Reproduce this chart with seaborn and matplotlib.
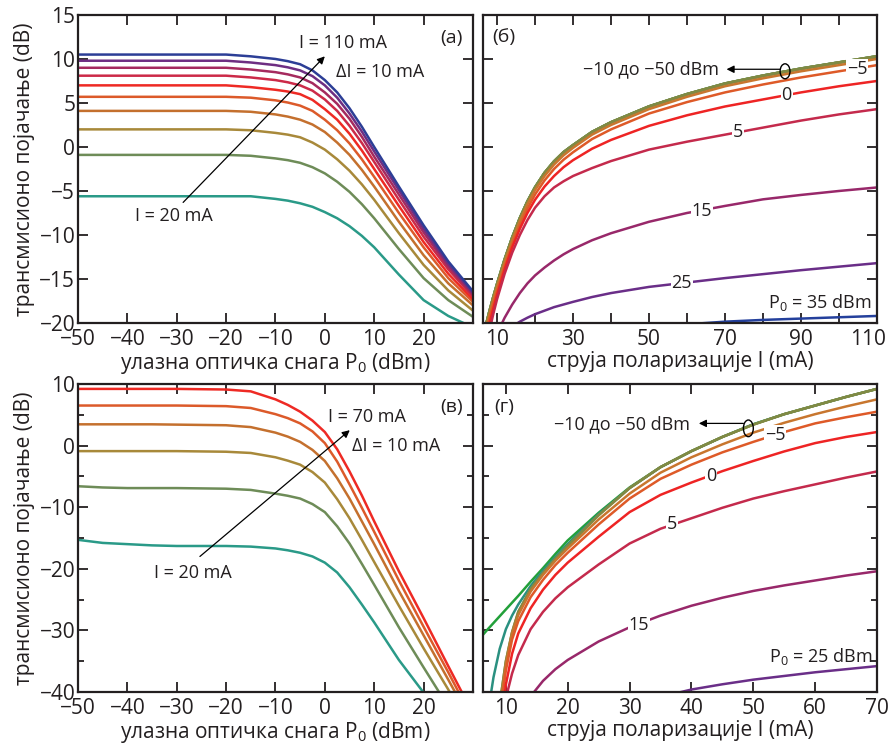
import matplotlib
matplotlib.use("Agg")
import matplotlib.pyplot as plt
from matplotlib.patches import Ellipse
from matplotlib.transforms import ScaledTranslation
import seaborn as sns

# ---- panel (а): gain vs input power, bias current 20..110 mA ----
P_A = [-50, -30, -20, -15, -10, -7.5, -5, -2.5, 0, 2.5, 5, 7.5, 10, 15, 20, 25, 30]
A_I110 = [10.5, 10.5, 10.5, 10.3, 10.0, 9.75, 9.4, 8.7, 7.6, 6.2, 4.4, 2.3, 0.0, -4.5, -8.9, -13.0, -16.4]
A_I100 = [9.8, 9.8, 9.8, 9.6, 9.3, 9.05, 8.7, 8.05, 7.0, 5.6, 3.8, 1.75, -0.5, -4.9, -9.3, -13.3, -16.6]
A_I90 = [9.0, 9.0, 9.0, 8.8, 8.5, 8.25, 7.9, 7.25, 6.2, 4.9, 3.2, 1.15, -1.1, -5.4, -9.7, -13.6, -16.8]
A_I80 = [8.1, 8.1, 8.1, 7.9, 7.6, 7.35, 7.0, 6.4, 5.4, 4.1, 2.4, 0.45, -1.7, -6.0, -10.2, -13.9, -17.0]
A_I70 = [7.0, 7.0, 7.0, 6.8, 6.5, 6.3, 6.0, 5.35, 4.3, 3.1, 1.5, -0.4, -2.5, -6.7, -10.8, -14.4, -17.3]
A_I60 = [5.7, 5.7, 5.7, 5.6, 5.3, 5.05, 4.7, 4.1, 3.1, 1.9, 0.4, -1.4, -3.4, -7.5, -11.4, -14.9, -17.6]
A_I50 = [4.1, 4.1, 4.1, 4.0, 3.7, 3.45, 3.1, 2.55, 1.7, 0.5, -0.9, -2.6, -4.5, -8.5, -12.3, -15.5, -18.0]
A_I40 = [2.0, 2.0, 2.0, 1.9, 1.6, 1.4, 1.1, 0.5, -0.3, -1.4, -2.7, -4.25, -6.0, -9.8, -13.4, -16.3, -18.6]
A_I30 = [-0.9, -0.9, -0.9, -1.0, -1.3, -1.5, -1.8, -2.3, -3.0, -3.95, -5.1, -6.5, -8.1, -11.6, -14.9, -17.4, -19.3]
A_I20 = [-5.6, -5.6, -5.6, -5.6, -5.9, -6.1, -6.4, -6.8, -7.4, -8.1, -9.0, -10.1, -11.4, -14.5, -17.4, -19.2, -20.5]

# ---- panel (б): gain vs bias current, input power -50..35 dBm ----
I_B = [7, 8, 9, 10, 12, 14, 16, 18, 20, 22.5, 25, 27.5, 30, 35, 40, 50, 60, 70, 80, 90, 100, 110]
B_BAND = [-20.4, -18.7, -17.1, -15.6, -12.8, -10.3, -8.1, -6.2, -4.6, -2.95, -1.65, -0.6, 0.2, 1.7, 2.8, 4.6, 6.0, 7.2, 8.1, 8.9, 9.6, 10.3]
B_M10 = [-20.7, -19.0, -17.4, -15.9, -13.1, -10.6, -8.4, -6.5, -4.9, -3.3, -2.0, -0.95, -0.1, 1.4, 2.5, 4.3, 5.7, 6.9, 7.8, 8.6, 9.3, 10.0]
B_M5 = [-21.2, -19.5, -17.9, -16.4, -13.6, -11.1, -8.9, -7.0, -5.4, -3.8, -2.5, -1.45, -0.6, 0.9, 2.0, 3.8, 5.1, 6.2, 7.1, 7.9, 8.6, 9.3]
B_P0 = [-22.0, -20.1, -18.4, -16.8, -13.9, -11.4, -9.3, -7.5, -6.0, -4.5, -3.3, -2.3, -1.5, -0.2, 0.8, 2.4, 3.6, 4.6, 5.4, 6.2, 6.9, 7.5]
B_P5 = [-23.0, -20.9, -19.0, -17.3, -14.4, -12.0, -10.0, -8.3, -6.9, -5.6, -4.6, -3.9, -3.3, -2.4, -1.6, -0.3, 0.6, 1.4, 2.2, 3.0, 3.7, 4.3]
B_P15 = [-25.0, -23.5, -22.3, -21.2, -19.4, -17.9, -16.6, -15.5, -14.6, -13.7, -12.9, -12.2, -11.6, -10.6, -9.8, -8.5, -7.5, -6.7, -5.95, -5.45, -5.0, -4.6]
B_P25 = [-23.8, -23.1, -22.5, -22.0, -21.1, -20.4, -19.85, -19.4, -19.0, -18.6, -18.2, -17.9, -17.6, -17.05, -16.6, -15.9, -15.4, -14.9, -14.45, -14.0, -13.6, -13.2]
I_B35 = [60, 70, 80, 90, 100, 110]
B_P35 = [-20.15, -19.85, -19.65, -19.5, -19.35, -19.2]

# ---- panel (в): gain vs input power, bias current 20..70 mA ----
P_C = [-50, -45, -40, -35, -30, -20, -15, -10, -7.5, -5, -2.5, 0, 2.5, 5, 7.5, 10, 15, 20, 25, 30]
C_I70 = [9.2, 9.2, 9.2, 9.2, 9.2, 9.1, 8.8, 7.5, 6.6, 5.5, 4.05, 2.2, -0.6, -4.2, -8.1, -12.3, -20.4, -28.0, -35.8, -43.5]
C_I60 = [6.5, 6.5, 6.5, 6.5, 6.5, 6.4, 6.1, 5.1, 4.45, 3.6, 2.3, 0.4, -2.6, -6.3, -10.1, -14.0, -21.9, -29.4, -36.8, -44.5]
C_I50 = [3.45, 3.45, 3.45, 3.45, 3.4, 3.3, 3.0, 2.1, 1.45, 0.6, -0.7, -2.5, -5.3, -8.6, -12.3, -16.0, -23.6, -30.8, -38.0, -45.3]
C_I40 = [-0.9, -0.9, -0.9, -0.9, -0.9, -1.0, -1.2, -1.9, -2.45, -3.1, -4.3, -6.0, -8.7, -11.8, -15.3, -18.9, -26.0, -32.9, -39.6, -46.5]
C_I30 = [-6.6, -6.8, -6.9, -6.9, -6.9, -7.0, -7.2, -7.8, -8.15, -8.6, -9.5, -10.8, -13.1, -15.9, -19.2, -22.6, -29.5, -36.0, -42.4, -49.0]
C_I20 = [-15.3, -15.8, -16.0, -16.2, -16.3, -16.3, -16.4, -16.7, -17.0, -17.4, -18.0, -19.0, -20.6, -23.0, -25.8, -28.7, -34.8, -40.1, -45.8, -51.5]

# ---- panel (г): gain vs bias current, input power -50..25 dBm ----
I_D = [6.3, 7, 8, 9, 10, 11, 12, 14, 16, 18, 20, 25, 30, 35, 40, 45, 50, 55, 60, 65, 70]
D_M50 = [-30.7, -29.9, -28.8, -27.7, -26.6, -25.5, -24.4, -22.1, -19.9, -17.6, -15.4, -10.9, -6.8, -3.5, -0.9, 1.4, 3.45, 5.1, 6.5, 7.9, 9.2]
D_M40 = [-52.0, -44.0, -37.6, -33.0, -29.8, -27.6, -25.8, -22.8, -20.3, -18.1, -16.0, -11.1, -6.9, -3.5, -0.9, 1.4, 3.45, 5.1, 6.5, 7.9, 9.2]
D_BAND = [-70.0, -62.0, -52.0, -42.0, -35.0, -30.3, -27.0, -23.3, -20.7, -18.4, -16.3, -11.3, -6.9, -3.5, -0.9, 1.4, 3.4, 5.1, 6.5, 7.9, 9.2]
D_M10 = [-75.0, -66.0, -55.0, -43.0, -35.5, -30.5, -27.5, -23.7, -21.0, -18.7, -16.7, -12.0, -7.8, -4.4, -1.9, 0.2, 2.1, 3.7, 5.1, 6.35, 7.5]
D_M5 = [-76.0, -67.0, -56.0, -44.0, -36.5, -31.5, -28.5, -24.6, -21.8, -19.4, -17.4, -12.8, -8.6, -5.4, -3.1, -1.1, 0.6, 2.2, 3.6, 4.6, 5.5]
D_P0 = [-80.0, -70.0, -59.0, -47.0, -38.8, -33.8, -30.5, -26.4, -23.4, -21.0, -19.0, -14.8, -10.8, -8.0, -6.0, -4.15, -2.5, -0.95, 0.4, 1.4, 2.2]
D_P5 = [-85.0, -75.0, -63.0, -52.0, -41.0, -37.0, -34.0, -29.8, -27.0, -24.8, -23.0, -19.3, -15.9, -13.5, -11.8, -10.1, -8.6, -7.4, -6.3, -5.2, -4.2]
D_P15 = [-90.0, -80.0, -70.0, -62.0, -55.0, -49.0, -45.0, -40.7, -38.2, -36.3, -34.8, -31.8, -29.5, -27.6, -26.0, -24.7, -23.6, -22.7, -21.9, -21.1, -20.4]
I_D25 = [30, 35, 40, 45, 50, 55, 60, 65, 70]
D_P25 = [-42.4, -40.8, -39.6, -38.75, -38.0, -37.4, -36.8, -36.3, -35.8]

# colours by current (mA) and by input power (dBm)
I_COL = {20: "#2a9a88", 30: "#6e8c58", 40: "#a8893a", 50: "#c4702e", 60: "#dc5a2a",
         70: "#ee2a24", 80: "#cc2a48", 90: "#a52a5e", 100: "#6e2e82", 110: "#2c3e96"}
P_COL = {-50: "#22a03a", -40: "#2a9080", -30: "#7f8a44", -20: "#a8863a", -10: "#c8762e",
         -5: "#de5a28", 0: "#ee2424", 5: "#c42a4c", 15: "#98286a", 25: "#6a2e88", 35: "#24409c"}

sns.set_theme(style="ticks")
plt.rcParams['font.family'] = ['Open Sans', 'DejaVu Sans']
plt.rcParams['mathtext.fontset'] = 'custom'
plt.rcParams['mathtext.rm'] = 'Open Sans'
plt.rcParams['axes.unicode_minus'] = True

INK = "#231f20"
LW = 1.8

fig = plt.figure(figsize=(8.89, 7.52), dpi=100)
ax_a = fig.add_axes([0.0877, 0.5705, 0.4443, 0.4096])
ax_b = fig.add_axes([0.5433, 0.5705, 0.4432, 0.4096])
ax_c = fig.add_axes([0.0877, 0.0798, 0.4443, 0.4096])
ax_d = fig.add_axes([0.5433, 0.0798, 0.4432, 0.4096])


def curve(ax, x, y, color, lw=LW):
    sns.lineplot(x=x, y=y, color=color, linewidth=lw, ax=ax, legend=False)


def minus(vals):
    return [str(v).replace('-', '\u2212') for v in vals]


def style(ax, xlim, ylim, xticks, xlabels, yticks, ylabels, yminor=None):
    ax.set_xlim(*xlim)
    ax.set_ylim(*ylim)
    ax.set_xticks(xticks)
    ax.set_xticklabels(xlabels)
    ax.set_yticks(yticks)
    ax.set_yticklabels(ylabels)
    if yminor is not None:
        ax.set_yticks(yminor, minor=True)
    ax.tick_params(which='major', direction='in', top=True, right=True, length=7.2, width=1.3,
                   colors=INK, labelsize=15, pad=4)
    ax.tick_params(axis='y', which='major', pad=2)
    ax.tick_params(which='minor', direction='in', left=True, right=True, length=4.3, width=1.3, colors=INK)
    for s in ax.spines.values():
        s.set_linewidth(1.6)
        s.set_color(INK)
    ax.set_facecolor("white")


def lab(ax, x, y, s, size=13, bg=True):
    kw = dict(ha='center', va='center', fontsize=size, color=INK, zorder=5)
    if bg:
        kw['bbox'] = dict(facecolor='white', edgecolor='none', pad=0.6)
    ax.text(x, y, s, **kw)


def arrow(ax, tip, tail):
    ax.annotate("", xy=tip, xytext=tail,
                arrowprops=dict(arrowstyle='-|>', color='black', lw=0.9, mutation_scale=11,
                                shrinkA=0, shrinkB=0), zorder=6)


# (а)
for cur, g in [(20, A_I20), (30, A_I30), (40, A_I40), (50, A_I50), (60, A_I60),
               (70, A_I70), (80, A_I80), (90, A_I90), (100, A_I100), (110, A_I110)]:
    curve(ax_a, P_A, g, I_COL[cur])
style(ax_a, (-50, 30), (-20, 15), range(-50, 21, 10), minus(range(-50, 21, 10)),
      range(-20, 16, 5), minus(range(-20, 16, 5)))
lab(ax_a, 3.7, 11.8, "I = 110 mA", bg=False)
lab(ax_a, 11.1, 8.56, "\u0394I = 10 mA", bg=False)
lab(ax_a, -30.5, -7.9, "I = 20 mA", bg=False)
arrow(ax_a, (0, 10.3), (-28.7, -6.3))
lab(ax_a, 25.6, 12.35, "(а)", size=14, bg=False)
ax_a.set_xlabel(r"улазна оптичка снага P$_0$ (dBm)", fontsize=15, color=INK, labelpad=1)

# (б)
for p in (-50, -40, -20, -30):
    curve(ax_b, I_B, B_BAND, P_COL[p], lw=2.0)
for p, g in [(-10, B_M10), (-5, B_M5), (0, B_P0), (5, B_P5), (15, B_P15), (25, B_P25)]:
    curve(ax_b, I_B, g, P_COL[p])
curve(ax_b, I_B35, B_P35, P_COL[35])
style(ax_b, (6.3, 110), (-20, 15), range(10, 111, 10), [str(v) if v % 20 == 10 else "" for v in range(10, 111, 10)],
      range(-20, 16, 5), [])
last = ax_b.get_xticklabels()[-1]
last.set_transform(last.get_transform() + ScaledTranslation(-9 / 100, 0, fig.dpi_scale_trans))
lab(ax_b, 11.7, 12.5, "(б)", size=14, bg=False)
lab(ax_b, 50.5, 8.8, "\u221210 до \u221250 dBm", bg=False)
arrow(ax_b, (70.4, 8.83), (84.5, 8.83))
ax_b.add_patch(Ellipse((85.8, 8.6), 2.6, 1.7, fill=False, edgecolor='black', lw=1.0, zorder=6))
lab(ax_b, 104.7, 8.9, "\u22125")
lab(ax_b, 86.2, 5.85, "0")
lab(ax_b, 73.5, 1.7, "5")
lab(ax_b, 63.9, -7.3, "15")
lab(ax_b, 58.6, -15.5, "25")
ax_b.text(108.5, -17.7, r"P$_0$ = 35 dBm", ha='right', va='center', fontsize=13, color=INK)
ax_b.set_xlabel("струја поларизације I (mA)", fontsize=15, color=INK, labelpad=1)

# (в)
for cur, g in [(20, C_I20), (30, C_I30), (40, C_I40), (50, C_I50), (60, C_I60), (70, C_I70)]:
    curve(ax_c, P_C, g, I_COL[cur])
style(ax_c, (-50, 30), (-40, 10), range(-50, 21, 10), minus(range(-50, 21, 10)),
      range(-40, 11, 10), minus(range(-40, 11, 10)), yminor=range(-35, 10, 10))
lab(ax_c, 8.5, 4.7, "I = 70 mA", bg=False)
lab(ax_c, 14.5, -0.1, "\u0394I = 10 mA", bg=False)
lab(ax_c, -26.8, -20.7, "I = 20 mA", bg=False)
arrow(ax_c, (5.05, 2.5), (-25.3, -18.0))
lab(ax_c, 25.6, 6.3, "(в)", size=14, bg=False)
ax_c.set_xlabel(r"улазна оптичка снага P$_0$ (dBm)", fontsize=15, color=INK, labelpad=1)

# (г)
curve(ax_d, I_D, D_M50, P_COL[-50])
curve(ax_d, I_D, D_M40, P_COL[-40])
for p in (-20, -30):
    curve(ax_d, I_D, D_BAND, P_COL[p])
for p, g in [(-10, D_M10), (-5, D_M5), (0, D_P0), (5, D_P5), (15, D_P15)]:
    curve(ax_d, I_D, g, P_COL[p])
curve(ax_d, I_D25, D_P25, P_COL[25])
style(ax_d, (6.3, 70), (-40, 10), range(10, 71, 10), [str(v) for v in range(10, 71, 10)],
      range(-40, 11, 10), [], yminor=range(-35, 10, 10))
lab(ax_d, 9.7, 6.3, "(г)", size=14, bg=False)
lab(ax_d, 28.7, 3.45, "\u221210 до \u221250 dBm", bg=False)
arrow(ax_d, (41.2, 3.6), (48.4, 3.6))
ax_d.add_patch(Ellipse((49.2, 2.8), 1.6, 2.7, fill=False, edgecolor='black', lw=1.0, zorder=6))
lab(ax_d, 53.5, 1.7, "\u22125")
lab(ax_d, 43.2, -4.9, "0")
lab(ax_d, 36.9, -12.8, "5")
lab(ax_d, 31.5, -29.2, "15")
ax_d.text(69.3, -34.2, r"P$_0$ = 25 dBm", ha='right', va='center', fontsize=13, color=INK)
ax_d.set_xlabel("струја поларизације I (mA)", fontsize=15, color=INK, labelpad=1)

for yc in (0.7753, 0.2846):
    fig.text(0.027, yc, "трансмисионо појачање (dB)", rotation=90, ha='center', va='center',
             fontsize=15, color=INK)

fig.savefig("out.png", dpi=100, facecolor="white")
